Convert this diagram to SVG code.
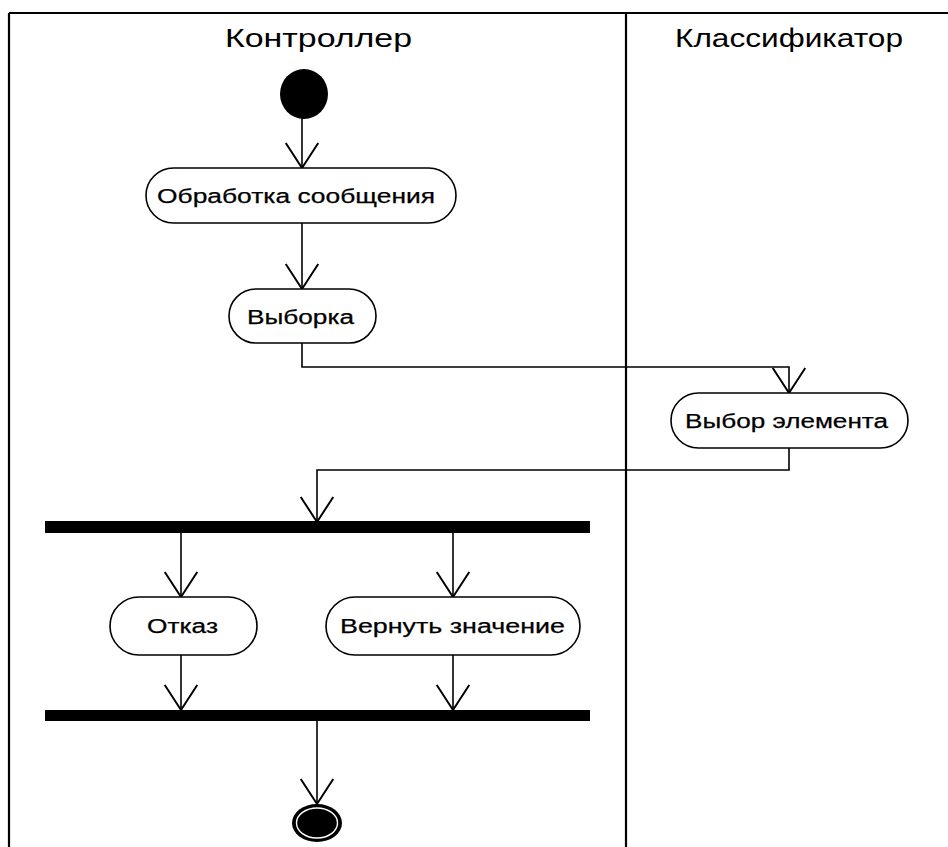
<svg xmlns="http://www.w3.org/2000/svg" width="948" height="847" viewBox="0 0 948 847">
<style>
.frame{stroke:#000;stroke-width:2.2;fill:none}
.node{fill:#fff;stroke:#000;stroke-width:1.6}
.lbl{font-family:"Liberation Sans",Arial,sans-serif;font-size:20px;fill:#000;stroke:#000;stroke-width:0.25;text-anchor:start}
.title{font-family:"Liberation Sans",Arial,sans-serif;font-size:25px;fill:#000}
.edge{stroke:#000;stroke-width:1.6;fill:none;marker-end:url(#arr)}
.bar{fill:#000}
</style>
<defs>
<marker id="arr" markerUnits="userSpaceOnUse" markerWidth="40" markerHeight="40" viewBox="-22 -16 26 32" refX="0" refY="0" orient="auto">
<path d="M-20,-13 L0,0 L-20,13" fill="none" stroke="#000" stroke-width="1.6"/>
</marker>
</defs>
<rect width="948" height="847" fill="#fff"/>
<g id="swimlanes">
<line class="frame" x1="9" y1="13" x2="948" y2="13"/>
<line class="frame" x1="9" y1="13" x2="9" y2="847"/>
<line class="frame" x1="626" y1="13" x2="626" y2="847"/>
<text class="title" x="225" y="47" textLength="187" lengthAdjust="spacingAndGlyphs">Контроллер</text>
<text class="title" x="675" y="47" textLength="228" lengthAdjust="spacingAndGlyphs">Классификатор</text>
</g>
<g id="connectors">
<path class="edge" d="M302,118 L302,168"/>
<path class="edge" d="M302,223 L302,289"/>
<path class="edge" d="M302,343 L302,367 L789,367 L789,393"/>
<path class="edge" d="M789,448 L789,470 L317,470 L317,522"/>
<path class="edge" d="M181,533 L181,597"/>
<path class="edge" d="M453,533 L453,597"/>
<path class="edge" d="M181,655 L181,710"/>
<path class="edge" d="M453,655 L453,710"/>
<path class="edge" d="M317,721 L317,804"/>
</g>
<g id="start">
<ellipse cx="304" cy="94" rx="24" ry="25" fill="#000"/>
</g>
<g id="obrabotka">
<rect class="node" x="146" y="168" width="310" height="55" rx="27.5"/>
<text class="lbl" x="157" y="203" textLength="278" lengthAdjust="spacingAndGlyphs">Обработка сообщения</text>
</g>
<g id="vyborka">
<rect class="node" x="229" y="289" width="147" height="54" rx="27"/>
<text class="lbl" x="247" y="324" textLength="107" lengthAdjust="spacingAndGlyphs">Выборка</text>
</g>
<g id="vybor_elementa">
<rect class="node" x="671" y="393" width="237" height="55" rx="27.5"/>
<text class="lbl" x="685" y="428" textLength="203" lengthAdjust="spacingAndGlyphs">Выбор элемента</text>
</g>
<g id="fork">
<rect class="bar" x="45" y="521" width="545" height="12"/>
</g>
<g id="otkaz">
<rect class="node" x="110" y="597" width="147" height="58" rx="29"/>
<text class="lbl" x="147" y="633" textLength="71" lengthAdjust="spacingAndGlyphs">Отказ</text>
</g>
<g id="vernut">
<rect class="node" x="326" y="597" width="254" height="58" rx="29"/>
<text class="lbl" x="340" y="633" textLength="225" lengthAdjust="spacingAndGlyphs">Вернуть значение</text>
</g>
<g id="join">
<rect class="bar" x="45" y="710" width="545" height="11"/>
</g>
<g id="end">
<ellipse cx="317" cy="823" rx="25" ry="19" fill="#000"/>
<ellipse cx="317" cy="823" rx="20.5" ry="15" fill="none" stroke="#fff" stroke-width="1.4"/>
</g>
</svg>
